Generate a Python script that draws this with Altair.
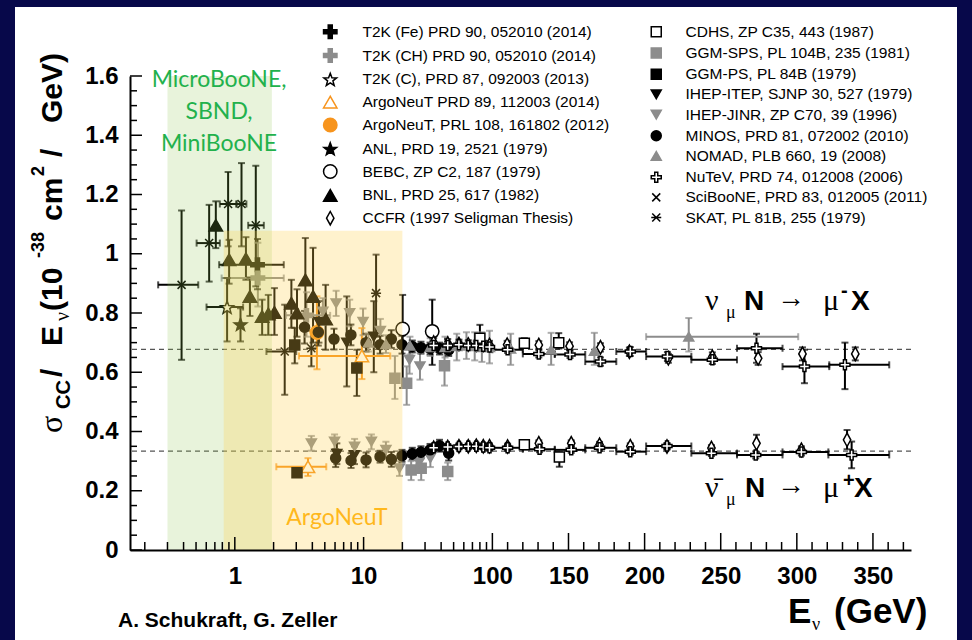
import math
import altair as alt
import pandas as pd

# ------------------------------------------------------------------ data
COL1 = [
    "T2K (Fe) PRD 90, 052010 (2014)",
    "T2K (CH) PRD 90, 052010 (2014)",
    "T2K (C), PRD 87, 092003 (2013)",
    "ArgoNeuT PRD 89, 112003 (2014)",
    "ArgoNeuT, PRL 108, 161802 (2012)",
    "ANL, PRD 19, 2521 (1979)",
    "BEBC, ZP C2, 187 (1979)",
    "BNL, PRD 25, 617 (1982)",
    "CCFR (1997 Seligman Thesis)",
]
COL2 = [
    "CDHS, ZP C35, 443 (1987)",
    "GGM-SPS, PL 104B, 235 (1981)",
    "GGM-PS, PL 84B (1979)",
    "IHEP-ITEP, SJNP 30, 527 (1979)",
    "IHEP-JINR, ZP C70, 39 (1996)",
    "MINOS, PRD 81, 072002 (2010)",
    "NOMAD, PLB 660, 19 (2008)",
    "NuTeV, PRD 74, 012008 (2006)",
    "SciBooNE, PRD 83, 012005 (2011)",
    "SKAT, PL 81B, 255 (1979)",
]

# (E [GeV], sigma/E, low, high[, E low, E high])
T2K_FE = [(1.5, 0.963, 0.88, 1.05, 0.756, 2.4)]
T2K_CH = [(1.51, 0.918, 0.822, 1.037, 0.79, 2.4), (3.6, 0.792, 0.72, 0.87, 2.5, 5.5)]
T2K_C = [(0.871, 0.82, 0.704, 0.918, 0.603, 1.16)]
ARGONEUT_PRD = [(9.7, 0.655, 0.577, 0.749, 3.15, 16.1), (3.7, 0.281, 0.25, 0.31, 2.1, 5.13)]
ARGONEUT_PRL = [(4.34, 0.734, 0.61, 0.856)]
ANL = [(1.107, 0.762, 0.704, 0.816)]
BEBC = [(20.1, 0.746, 0.547, 0.861), (34.1, 0.738, 0.625, 0.845)]
BNL = [(0.712, 1.096, 1.019, 1.177), (0.903, 0.98, 0.899, 1.047), (1.22, 0.983, 0.912, 1.056),
       (1.31, 0.856, 0.79, 0.92), (1.63, 0.788, 0.726, 0.845), (1.82, 0.797, 0.726, 0.861),
       (2.03, 0.802, 0.726, 0.884), (2.75, 0.833, 0.75, 0.912), (3.04, 0.80, 0.72, 0.88),
       (3.53, 0.912, 0.743, 1.053), (4.05, 0.856, 0.70, 1.02), (5.07, 0.78, 0.676, 0.895)]
CCFR = [(35, 0.70, 0.685, 0.715), (45, 0.697, 0.682, 0.712), (55, 0.695, 0.68, 0.71),
        (65, 0.694, 0.68, 0.708), (75, 0.693, 0.68, 0.707), (85, 0.692, 0.678, 0.706),
        (95, 0.692, 0.678, 0.706), (109.7, 0.693, 0.68, 0.706), (130.5, 0.692, 0.679, 0.705),
        (150.7, 0.688, 0.675, 0.701), (171, 0.684, 0.67, 0.698), (190, 0.669, 0.655, 0.683),
        (215.6, 0.647, 0.632, 0.662), (244.5, 0.652, 0.637, 0.667), (274.6, 0.647, 0.625, 0.668),
        (303.7, 0.662, 0.64, 0.684), (338.4, 0.662, 0.64, 0.684),
        (35, 0.345, 0.335, 0.355), (45, 0.348, 0.338, 0.358), (55, 0.35, 0.34, 0.36),
        (65, 0.35, 0.34, 0.36), (75, 0.352, 0.342, 0.362), (85, 0.35, 0.34, 0.36),
        (95, 0.35, 0.34, 0.36), (110, 0.349, 0.339, 0.359), (130.5, 0.36, 0.35, 0.37),
        (151.8, 0.36, 0.35, 0.37), (170.4, 0.355, 0.345, 0.365), (190.6, 0.35, 0.34, 0.36),
        (214.7, 0.349, 0.339, 0.359), (243.9, 0.344, 0.334, 0.354), (273.5, 0.36, 0.33, 0.389),
        (303, 0.338, 0.326, 0.35), (333, 0.372, 0.34, 0.405)]
CDHS = [(80, 0.715, 0.69, 0.76), (121, 0.698, 0.685, 0.715), (143.6, 0.70, 0.68, 0.732),
        (121, 0.355, 0.345, 0.366), (144, 0.314, 0.281, 0.33)]
GGM_SPS = [(17.5, 0.58, 0.51, 0.655), (21.6, 0.563, 0.49, 0.62), (42.5, 0.622, 0.555, 0.69),
           (23.4, 0.27, 0.236, 0.30), (28.0, 0.276, 0.236, 0.31), (45, 0.265, 0.236, 0.295)]
GGM_PS = [(2.92, 0.692, 0.63, 0.75), (8.86, 0.614, 0.52, 0.676), (3.04, 0.261, 0.248, 0.275)]
IHEP_ITEP = [(4.5, 0.77, 0.70, 0.84), (7.4, 0.70, 0.552, 0.856), (12.0, 0.72, 0.60, 0.84),
             (6.2, 0.325, 0.29, 0.36), (8.5, 0.32, 0.29, 0.35)]
IHEP_JINR = [(4.83, 0.805, 0.76, 0.85), (6.12, 0.833, 0.79, 0.875), (7.8, 0.80, 0.755, 0.845),
             (9.9, 0.77, 0.725, 0.815), (13.5, 0.74, 0.70, 0.78), (22.7, 0.642, 0.595, 0.69),
             (27.4, 0.62, 0.575, 0.665),
             (3.93, 0.36, 0.335, 0.385), (5.95, 0.366, 0.34, 0.39), (8.51, 0.349, 0.325, 0.375),
             (11.5, 0.366, 0.34, 0.39), (14.9, 0.338, 0.31, 0.365), (19.0, 0.276, 0.25, 0.30),
             (27, 0.295, 0.265, 0.325), (33, 0.31, 0.28, 0.34)]
MINOS = [(3.48, 0.752, 0.697, 0.807), (4.45, 0.735, 0.69, 0.78), (5.89, 0.712, 0.677, 0.747),
         (7.97, 0.726, 0.691, 0.761), (10.45, 0.70, 0.67, 0.73), (13.43, 0.693, 0.663, 0.723),
         (16.42, 0.712, 0.682, 0.742), (19.87, 0.693, 0.663, 0.723), (23.88, 0.687, 0.667, 0.707),
         (27.89, 0.683, 0.663, 0.703), (32.81, 0.68, 0.66, 0.70), (38.87, 0.68, 0.66, 0.70),
         (45.77, 0.675, 0.655, 0.695),
         (6.07, 0.31, 0.28, 0.34), (7.99, 0.302, 0.277, 0.327), (10.45, 0.304, 0.279, 0.329),
         (13.42, 0.315, 0.295, 0.335), (16.43, 0.306, 0.281, 0.331), (19.87, 0.318, 0.298, 0.338),
         (23.88, 0.325, 0.305, 0.345), (27.89, 0.33, 0.31, 0.35), (32.81, 0.338, 0.318, 0.358),
         (38.87, 0.352, 0.332, 0.372), (45.77, 0.327, 0.302, 0.352)]
NOMAD = [(10.9, 0.70, 0.67, 0.73), (14.9, 0.695, 0.665, 0.725), (22.9, 0.69, 0.66, 0.72),
         (32.9, 0.685, 0.655, 0.715), (42.9, 0.685, 0.65, 0.72), (52.9, 0.688, 0.64, 0.73),
         (62.9, 0.69, 0.645, 0.735), (72.9, 0.688, 0.64, 0.735), (82.9, 0.685, 0.635, 0.735),
         (95, 0.685, 0.63, 0.74), (112, 0.68, 0.625, 0.73), (138.6, 0.676, 0.625, 0.733),
         (167, 0.672, 0.625, 0.733), (229, 0.72, 0.67, 0.783, 201, 300.9)]
NUTEV = [(35, 0.69, 0.68, 0.70), (45, 0.69, 0.68, 0.70), (55, 0.693, 0.683, 0.703),
         (65, 0.69, 0.68, 0.70), (75, 0.69, 0.68, 0.70), (85, 0.688, 0.678, 0.698),
         (95, 0.685, 0.675, 0.695), (110, 0.676, 0.665, 0.687, 100, 120),
         (130.5, 0.662, 0.65, 0.674, 120, 141), (151, 0.66, 0.648, 0.672, 141, 161),
         (171, 0.636, 0.622, 0.65, 161, 181.4), (190.6, 0.67, 0.655, 0.685, 181.4, 201),
         (215, 0.653, 0.638, 0.668, 201, 230.7), (244.5, 0.642, 0.628, 0.656, 230.7, 260.7),
         (273.5, 0.681, 0.632, 0.73, 260.7, 290.6), (305, 0.619, 0.563, 0.676, 290.6, 321.3),
         (331.6, 0.625, 0.543, 0.70, 321.3, 360.7),
         (35, 0.345, 0.337, 0.353), (45, 0.348, 0.34, 0.356), (55, 0.349, 0.341, 0.357),
         (65, 0.35, 0.342, 0.358), (75, 0.35, 0.342, 0.358), (85, 0.348, 0.34, 0.356),
         (95, 0.345, 0.337, 0.353), (110, 0.345, 0.335, 0.355, 100, 120),
         (131, 0.34, 0.33, 0.35, 120, 141), (151.8, 0.338, 0.328, 0.348, 141, 161),
         (170.4, 0.345, 0.335, 0.355, 161, 181.4), (190.6, 0.332, 0.322, 0.342, 181.4, 201),
         (214.7, 0.351, 0.341, 0.361, 201, 230.7), (243.9, 0.327, 0.317, 0.337, 230.7, 260.7),
         (273, 0.321, 0.309, 0.333, 260.7, 290.6), (303, 0.331, 0.319, 0.343, 290.6, 320.7),
         (336, 0.321, 0.276, 0.366, 320.7, 360.7)]
SCIBOONE = [(0.386, 0.895, 0.642, 1.146, 0.254, 0.52), (0.632, 1.036, 0.906, 1.165, 0.505, 0.765),
            (0.887, 1.168, 1.025, 1.276, 0.765, 1.03), (1.127, 1.168, 1.025, 1.306, 1.03, 1.23),
            (1.455, 1.096, 0.89, 1.297, 1.27, 1.68), (2.44, 0.67, 0.524, 0.828, 1.76, 3.0)]
SKAT = [(3.93, 0.681, 0.62, 0.74), (12.5, 0.867, 0.72, 0.997)]

DATA = dict(zip(COL1 + COL2, [T2K_FE, T2K_CH, T2K_C, ARGONEUT_PRD, ARGONEUT_PRL, ANL, BEBC, BNL, CCFR,
                              CDHS, GGM_SPS, GGM_PS, IHEP_ITEP, IHEP_JINR, MINOS, NOMAD, NUTEV,
                              SCIBOONE, SKAT]))

REF_LINES = [0.677, 0.334]                      # dashed reference values
GREEN_BAND = [0.30, 1.94, 1.6]                  # E from, E to, top
YELLOW_BAND = [0.82, 20.0, 1.078]

X_MAJOR_LOG = [1, 10]
X_MAJOR_LIN = [100, 150, 200, 250, 300, 350]
X_MINOR = [0.2, 0.3, 0.4, 0.5, 0.6, 0.7, 0.8, 0.9, 2, 3, 4, 5, 6, 7, 8, 9,
           20, 30, 40, 50, 60, 70, 80, 90, 110, 120, 130, 140, 160, 170, 180, 190,
           210, 220, 230, 240, 260, 270, 280, 290, 310, 320, 330, 340, 360, 370]
Y_MAJOR = [0, 0.2, 0.4, 0.6, 0.8, 1.0, 1.2, 1.4, 1.6]
Y_MINOR = [0.05, 0.1, 0.15, 0.25, 0.3, 0.35, 0.45, 0.5, 0.55, 0.65, 0.7, 0.75, 0.85, 0.9, 0.95,
           1.05, 1.1, 1.15, 1.25, 1.3, 1.35, 1.45, 1.5, 1.55]

# ------------------------------------------------------------------ styles
BLACK, GRAY, ORANGE, WHITE, NONE = "#000000", "#8c8c8c", "#f7941d", "#ffffff", "transparent"


def star_path(r_in=0.42):
    pts = []
    for k in range(10):
        a = -math.pi / 2 + k * math.pi / 5
        r = 1.0 if k % 2 == 0 else r_in
        pts.append(f"{r * math.cos(a):.3f},{r * math.sin(a) + 0.1:.3f}")
    return "M" + "L".join(pts) + "Z"


PLUS = "M-0.3,-1H0.3V-0.3H1V0.3H0.3V1H-0.3V0.3H-1V-0.3H-0.3Z"
STAR = star_path()
XSYM = "M-0.8,-0.8L0.8,0.8M-0.8,0.8L0.8,-0.8"
ASTER = "M-0.8,-0.8L0.8,0.8M-0.8,0.8L0.8,-0.8M-1,0L1,0"
TALL_DIAMOND = "M-0.55,0L0,-1L0.55,0L0,1Z"

# series -> (shape, fill, stroke, size, errorbar colour)
STYLE = {
    COL1[0]: (PLUS, BLACK, BLACK, 180, BLACK),
    COL1[1]: (PLUS, GRAY, GRAY, 180, GRAY),
    COL1[2]: (STAR, WHITE, BLACK, 150, BLACK),
    COL1[3]: ("triangle-up", WHITE, ORANGE, 110, ORANGE),
    COL1[4]: ("circle", ORANGE, ORANGE, 110, ORANGE),
    COL1[5]: (STAR, BLACK, BLACK, 170, BLACK),
    COL1[6]: ("circle", WHITE, BLACK, 110, BLACK),
    COL1[7]: ("triangle-up", BLACK, BLACK, 100, BLACK),
    COL1[8]: (TALL_DIAMOND, WHITE, BLACK, 200, BLACK),
    COL2[0]: ("square", WHITE, BLACK, 100, BLACK),
    COL2[1]: ("square", GRAY, GRAY, 100, GRAY),
    COL2[2]: ("square", BLACK, BLACK, 100, BLACK),
    COL2[3]: ("triangle-down", BLACK, BLACK, 100, BLACK),
    COL2[4]: ("triangle-down", GRAY, GRAY, 100, GRAY),
    COL2[5]: ("circle", BLACK, BLACK, 110, BLACK),
    COL2[6]: ("triangle-up", GRAY, GRAY, 100, GRAY),
    COL2[7]: (PLUS, WHITE, BLACK, 160, BLACK),
    COL2[8]: (XSYM, NONE, BLACK, 160, BLACK),
    COL2[9]: (ASTER, NONE, BLACK, 150, BLACK),
}

ALL = COL1 + COL2
rows = []
for s, pts in DATA.items():
    for p in pts:
        E, v, lo, hi, elo, ehi = (list(p) + [None, None])[:6]
        rows.append(dict(series=s, E=E, v=v, lo=lo, hi=hi, elo=elo, ehi=ehi))
df = pd.DataFrame(rows)

# ------------------------------------------------------------------ geometry
W, H = 781, 474
X0, Y0 = 130, 76                     # page position of the plot origin
GEV_PER_UNIT = 84.6                  # linear part: GeV per decade-width


def xp(E):
    return math.log10(E) if E <= 100 else 2 + (E - 100) / GEV_PER_UNIT


def XP(f):
    return f"datum.{f} <= 100 ? log(datum.{f}) / LN10 : 2 + (datum.{f} - 100) / {GEV_PER_UNIT}"


xscale = alt.Scale(domain=[xp(0.1535), xp(375)], nice=False, zero=False)
yscale = alt.Scale(domain=[0, 1.6], nice=False, zero=False)

xaxis = alt.Axis(values=[xp(e) for e in X_MAJOR_LOG + X_MAJOR_LIN],
                 labelExpr=f"datum.value <= 2.0001 ? '' + round(pow(10, datum.value)) : "
                           f"'' + round(100 + (datum.value - 2) * {GEV_PER_UNIT})",
                 ticks=False, tickSize=0, domainColor="black", domainWidth=2, grid=False,
                 labelFont="Liberation Sans", labelFontSize=24, labelFontWeight="bold",
                 labelColor="black", labelPadding=14, labelOverlap=False, labelFlush=False,
                 title=None, zindex=1)
yaxis = alt.Axis(values=Y_MAJOR, labelExpr="format(datum.value, '.1~f')",
                 ticks=False, tickSize=0, domainColor="black", domainWidth=2, grid=False,
                 labelFont="Liberation Sans", labelFontSize=24, labelFontWeight="bold",
                 labelColor="black", labelPadding=12, labelOverlap=False, title=None, zindex=1)

X = alt.X("xp:Q", scale=xscale, axis=xaxis)
Y = alt.Y("v:Q", scale=yscale, axis=yaxis)
ONE = alt.Data(values=[{"a": 1}])
ERRCOL = alt.Color("series:N", scale=alt.Scale(domain=ALL, range=[STYLE[s][4] for s in ALL]), legend=None)

base = alt.Chart(df).transform_calculate(xp=XP("E"))

# white card
panel = alt.Chart(ONE).mark_rect(color="white").encode(
    x=alt.value(15 - X0), x2=alt.value(957 - X0), y=alt.value(7 - Y0), y2=alt.value(640 - Y0))

dashed = alt.Chart(pd.DataFrame({"v": REF_LINES})).mark_rule(
    color="#555555", strokeDash=[5, 4], strokeWidth=1.2).encode(
    y=Y, x=alt.value(2), x2=alt.value(W))

vbars = base.transform_filter("isValid(datum.lo)")
hbars = base.transform_filter("isValid(datum.elo)").transform_calculate(xlo=XP("elo"), xhi=XP("ehi"))
err_v = vbars.mark_rule(strokeWidth=2).encode(
    x=X, y=alt.Y("lo:Q", scale=yscale, axis=yaxis), y2="hi:Q", color=ERRCOL)
err_h = hbars.mark_rule(strokeWidth=2).encode(
    x=alt.X("xlo:Q", scale=xscale, axis=xaxis), x2="xhi:Q", y=Y, color=ERRCOL)
cap_lo = vbars.mark_tick(orient="horizontal", size=7, thickness=2).encode(
    x=X, y=alt.Y("lo:Q", scale=yscale, axis=yaxis), color=ERRCOL)
cap_hi = vbars.mark_tick(orient="horizontal", size=7, thickness=2).encode(
    x=X, y=alt.Y("hi:Q", scale=yscale, axis=yaxis), color=ERRCOL)
cap_l = hbars.mark_tick(orient="vertical", size=7, thickness=2).encode(
    x=alt.X("xlo:Q", scale=xscale, axis=xaxis), y=Y, color=ERRCOL)
cap_r = hbars.mark_tick(orient="vertical", size=7, thickness=2).encode(
    x=alt.X("xhi:Q", scale=xscale, axis=xaxis), y=Y, color=ERRCOL)


def points(cols, lx, ly, row_pad, lab_off):
    leg = alt.Legend(title=None, orient="none", legendX=lx, legendY=ly, direction="vertical",
                     labelFont="Liberation Sans", labelFontSize=15.5, labelColor="black",
                     labelLimit=600, rowPadding=row_pad, labelOffset=lab_off, padding=0,
                     symbolStrokeWidth=1.5, symbolOpacity=1)
    return base.transform_filter(alt.FieldOneOfPredicate(field="series", oneOf=cols)).mark_point(
        filled=True, opacity=1, fillOpacity=1, strokeWidth=1.5).encode(
        x=X, y=Y,
        shape=alt.Shape("series:N", scale=alt.Scale(domain=cols, range=[STYLE[s][0] for s in cols]), legend=leg),
        fill=alt.Fill("series:N", scale=alt.Scale(domain=cols, range=[STYLE[s][1] for s in cols]), legend=leg),
        stroke=alt.Stroke("series:N", scale=alt.Scale(domain=cols, range=[STYLE[s][2] for s in cols]), legend=leg),
        size=alt.Size("series:N", scale=alt.Scale(domain=cols, range=[STYLE[s][3] for s in cols]), legend=leg),
    )


pts_a = points(COL1, 192.5, -52, 3.8, 24.5)
pts_b = points(COL2, 518.5, -52, 3.2, 21.5)


def band(b, color, op):
    d = pd.DataFrame({"e1": [b[0]], "e2": [b[1]], "v": [b[2]]})
    return alt.Chart(d).transform_calculate(x1=XP("e1"), x2=XP("e2")).mark_rect(
        color=color, opacity=op).encode(
        x=alt.X("x1:Q", scale=xscale, axis=xaxis), x2="x2:Q", y=Y, y2=alt.value(H))


green = band(GREEN_BAND, "#8bc34a", 0.2)
yellow = band(YELLOW_BAND, "#ffd24d", 0.28)


def xticks(vals, length):
    return alt.Chart(pd.DataFrame({"E": vals})).transform_calculate(xp=XP("E")).mark_rule(
        color="black", strokeWidth=1.5).encode(x=X, y=alt.value(H), y2=alt.value(H - length))


def yticks(vals, length):
    return alt.Chart(pd.DataFrame({"v": vals})).mark_rule(color="black", strokeWidth=1.5).encode(
        y=Y, x=alt.value(0), x2=alt.value(length))


def txt(s, px, py, size, font="Liberation Sans", weight="bold", color="black",
        align="left", angle=0):
    return alt.Chart(ONE).mark_text(text=s, font=font, fontSize=size, fontWeight=weight,
                                    color=color, align=align, baseline="alphabetic",
                                    angle=angle).encode(x=alt.value(px - X0), y=alt.value(py - Y0))


SERIF = "Liberation Serif"
texts = [
    # y-axis title (rotated)
    txt("σ", 62, 433, 32, font=SERIF, weight="normal", angle=270),
    txt("CC", 70, 409, 20, angle=270),
    txt("/", 62, 377, 30, angle=270),
    txt("E", 62, 346, 30, angle=270),
    txt("ν", 69, 321, 20, font=SERIF, weight="normal", angle=270),
    txt("(10", 62, 311, 30, angle=270),
    txt("-38", 44, 258, 18, angle=270),
    txt("cm", 62, 221, 30, angle=270),
    txt("2", 44, 176, 18, angle=270),
    txt("/", 62, 157, 30, angle=270),
    txt("GeV)", 62, 123, 30, angle=270),
    # x-axis title
    txt("E", 788, 623, 35),
    txt("ν", 812, 630, 18, font=SERIF, weight="normal"),
    txt("(GeV)", 834, 623, 35),
    txt("A. Schukraft, G. Zeller", 118, 627, 21),
    # experiment regions
    txt("MicroBooNE,", 219, 87, 23, font="Lato", weight="normal", color="#22b14c", align="center"),
    txt("SBND,", 219, 119, 23, font="Lato", weight="normal", color="#22b14c", align="center"),
    txt("MiniBooNE", 219, 151, 23, font="Lato", weight="normal", color="#22b14c", align="center"),
    txt("ArgoNeuT", 337, 525, 23, font="Lato", weight="normal", color="#ffb81c", align="center"),
    # reactions
    txt("ν", 705, 310, 30, font=SERIF, weight="normal"),
    txt("μ", 726, 318, 18, font=SERIF, weight="normal"),
    txt("N", 744, 310, 28),
    txt("→", 777, 307, 28, font=SERIF, weight="normal"),
    txt("μ", 823, 310, 30, font=SERIF, weight="normal"),
    txt("-", 841, 297, 20),
    txt("X", 851, 310, 28),
    txt("ν\u0304", 705, 497, 30, font=SERIF, weight="normal"),
    txt("μ", 726, 505, 18, font=SERIF, weight="normal"),
    txt("N", 745, 497, 28),
    txt("→", 777, 494, 28, font=SERIF, weight="normal"),
    txt("μ", 823, 497, 30, font=SERIF, weight="normal"),
    txt("+", 843, 487, 20),
    txt("X", 854, 497, 28),
]

layers = [panel, dashed, err_v, err_h, cap_lo, cap_hi, cap_l, cap_r, pts_a, pts_b, green, yellow,
          xticks(X_MAJOR_LOG, 13), xticks(X_MAJOR_LIN, 17), xticks(X_MINOR, 8),
          yticks(Y_MAJOR, 12), yticks(Y_MINOR, 7)] + texts

chart = alt.layer(*layers).resolve_scale(
    shape="independent", fill="independent", stroke="independent", size="independent"
).properties(
    width=W, height=H,
    padding={"left": X0, "top": Y0, "right": 972 - X0 - W, "bottom": 640 - Y0 - H},
    autosize=alt.AutoSizeParams(type="none"),
).configure(background="#07084a").configure_view(stroke=None)

chart.save("out.html", embed_options={"renderer": "svg", "actions": False})
